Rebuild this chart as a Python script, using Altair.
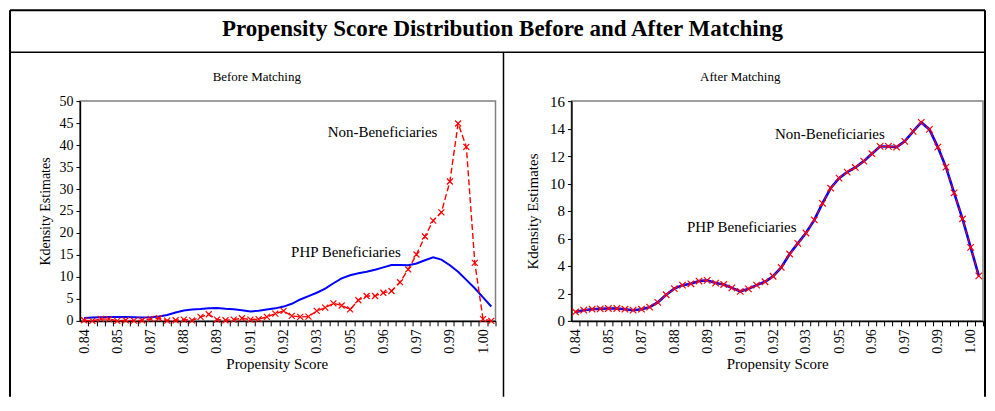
import altair as alt
import pandas as pd

# ---------------- data ----------------
scores = [0.8400, 0.8433, 0.8467, 0.8500, 0.8533, 0.8567, 0.8600, 0.8633, 0.8667, 0.8700,
          0.8733, 0.8767, 0.8800, 0.8833, 0.8867, 0.8900, 0.8933, 0.8967, 0.9000, 0.9033,
          0.9067, 0.9100, 0.9133, 0.9167, 0.9200, 0.9233, 0.9267, 0.9300, 0.9333, 0.9367,
          0.9400, 0.9433, 0.9467, 0.9500, 0.9533, 0.9567, 0.9600, 0.9633, 0.9667, 0.9700,
          0.9733, 0.9767, 0.9800, 0.9833, 0.9867, 0.9900, 0.9933, 0.9967, 1.0000, 1.0033]

php_before = [0.65, 0.78, 0.85, 0.88, 0.90, 0.90, 0.85, 0.78, 0.85, 1.00,
              1.35, 1.90, 2.35, 2.60, 2.70, 2.90, 2.95, 2.75, 2.65, 2.40,
              2.15, 2.33, 2.60, 2.85, 3.25, 3.89, 4.87, 5.64, 6.40, 7.35,
              8.56, 9.66, 10.39, 10.83, 11.17, 11.63, 12.17, 12.70, 12.70, 12.65,
              13.07, 13.80, 14.45, 13.94, 12.65, 11.19, 9.32, 7.42, 5.35, 3.28]

non_before = [0.15, 0.00, 0.45, 0.40, 0.00, 0.15, 0.05, 0.15, 0.45, 0.60,
              0.05, 0.15, 0.30, 0.10, 0.90, 1.50, 0.30, 0.15, 0.30, 0.60,
              0.30, 0.40, 0.90, 1.66, 2.26, 1.13, 0.90, 0.98, 2.26, 3.00,
              4.00, 3.50, 2.60, 4.70, 5.66, 5.66, 6.40, 6.80, 8.80, 11.70,
              15.10, 19.20, 22.80, 24.70, 31.70, 44.90, 39.60, 13.20, 0.40, 0.00]

php_after = [0.65, 0.78, 0.85, 0.88, 0.90, 0.90, 0.85, 0.78, 0.85, 1.00,
             1.35, 1.90, 2.35, 2.60, 2.70, 2.90, 2.95, 2.75, 2.65, 2.40,
             2.15, 2.33, 2.60, 2.85, 3.25, 3.89, 4.87, 5.64, 6.40, 7.35,
             8.56, 9.66, 10.39, 10.83, 11.17, 11.63, 12.17, 12.70, 12.70, 12.65,
             13.07, 13.80, 14.45, 13.94, 12.65, 11.19, 9.32, 7.42, 5.35, 3.28]

non_after = [0.65, 0.78, 0.85, 0.88, 0.90, 0.90, 0.85, 0.78, 0.85, 1.00,
             1.35, 1.90, 2.35, 2.60, 2.70, 2.90, 2.95, 2.75, 2.65, 2.40,
             2.15, 2.33, 2.60, 2.85, 3.25, 3.89, 4.87, 5.64, 6.40, 7.35,
             8.56, 9.66, 10.39, 10.83, 11.17, 11.63, 12.17, 12.70, 12.70, 12.65,
             13.07, 13.80, 14.45, 13.94, 12.65, 11.19, 9.32, 7.42, 5.35, 3.28]

tick_positions = ["0.8400", "0.8533", "0.8667", "0.8800", "0.8933", "0.9067", "0.9200",
                  "0.9333", "0.9467", "0.9600", "0.9733", "0.9867", "1.0000"]
tick_labels = ["0.84", "0.85", "0.87", "0.88", "0.89", "0.91", "0.92",
               "0.93", "0.95", "0.96", "0.97", "0.99", "1.00"]

main_title = "Propensity Score Distribution Before and After Matching"
panel_titles = ["Before Matching", "After Matching"]
x_title = "Propensity Score"
y_title = "Kdensity Estimates"

# annotation anchors (score, density) per panel
ann_before = pd.DataFrame({"label": ["Non-Beneficiaries", "PHP Beneficiaries"],
                           "score": [0.9597, 0.9450], "value": [43.0, 15.6]})
ann_after = pd.DataFrame({"label": ["Non-Beneficiaries", "PHP Beneficiaries"],
                          "score": [0.9430, 0.9073], "value": [13.6, 6.87]})

FONT = "Liberation Serif"
H = 220
W1 = 416
W2 = 412
X_DOMAIN = [0.83833, 1.00500]
XMARK = "M-1,-1L1,1M-1,1L1,-1"

pos_list = "[" + ",".join("'%s'" % p for p in tick_positions) + "]"
lab_list = "[" + ",".join("'%s'" % l for l in tick_labels) + "]"
label_expr = ("indexof(%s, format(datum.value, '.4f')) >= 0 ? %s[indexof(%s, format(datum.value, '.4f'))] : ''"
              % (pos_list, lab_list, pos_list))


def x_enc(width, title_x):
    half = width / 50 / 2
    return alt.X("score:Q",
                 scale=alt.Scale(domain=X_DOMAIN, nice=False, zero=False),
                 axis=alt.Axis(values=scores, tickOffset=half, labelOffset=-half,
                               labelExpr=label_expr, labelAngle=-90, labelOverlap=False,
                               labelFlush=False, labelFontSize=14, labelPadding=3,
                               tickSize=5, grid=False, title=x_title, titleFontSize=15,
                               titlePadding=3, titleX=title_x, titleAnchor="middle"))


def y_enc(field, ymax, step, label_size, title_size, title_pad):
    return alt.Y(field + ":Q",
                 scale=alt.Scale(domain=[0, ymax], nice=False, zero=True),
                 axis=alt.Axis(values=list(range(0, ymax + 1, step)), grid=False,
                               labelFontSize=label_size, tickSize=4, labelPadding=3,
                               title=y_title, titleFontSize=title_size, titlePadding=title_pad))


def text_at(txt, x, y, size, weight="normal"):
    return alt.Chart(pd.DataFrame({"t": [txt]})).mark_text(
        font=FONT, fontSize=size, fontWeight=weight, color="black",
        align="center", baseline="middle"
    ).encode(x=alt.value(x), y=alt.value(y), text="t:N")


def vrule(x, y1, y2, w):
    return alt.Chart(pd.DataFrame({"a": [0]})).mark_rule(color="black", strokeWidth=w).encode(
        x=alt.value(x), y=alt.value(y1), y2=alt.value(y2))


def hrule(x1, x2, y, w):
    return alt.Chart(pd.DataFrame({"a": [0]})).mark_rule(color="black", strokeWidth=w).encode(
        x=alt.value(x1), x2=alt.value(x2), y=alt.value(y))


def panel(php, non, ann, ymax, step, width, label_size, title_size, title_pad, title_x, after):
    df = pd.DataFrame({"score": scores, "php": php, "non": non})
    base = alt.Chart(df)
    xe = x_enc(width, title_x)

    def ye(field):
        return y_enc(field, ymax, step, label_size, title_size, title_pad)

    if after:
        blue = base.mark_line(color="#0000FF", strokeWidth=2.6).encode(x=xe, y=ye("php"))
        red = base.mark_line(color="#FF0000", strokeWidth=1, strokeDash=[5, 3]).encode(
            x=xe, y=ye("non"))
        msize = 42
    else:
        blue = base.mark_line(color="#0000FF", strokeWidth=2).encode(x=xe, y=ye("php"))
        red = base.mark_line(color="#FF0000", strokeWidth=1.4, strokeDash=[6, 3]).encode(
            x=xe, y=ye("non"))
        msize = 36
    pts = base.mark_point(shape=XMARK, color="#FF0000", size=msize, strokeWidth=1.2,
                          filled=False, opacity=1).encode(x=xe, y=ye("non"))
    ann_layer = alt.Chart(ann).mark_text(font=FONT, fontSize=15, color="black",
                                         align="center", baseline="middle").encode(
        x=xe, y=ye("value"), text="label:N")
    return [blue, red, pts, ann_layer]


left_layers = panel(php_before, non_before, ann_before, 50, 5, W1, 14, 14, 6, 197, False)
right_layers = panel(php_after, non_after, ann_after, 16, 2, W2, 15, 15, 9, W2 / 2, True)

left_frame = [
    vrule(-70, -91, 296, 2),
    hrule(-70, 906, -91, 2),
    hrule(-70, 906, -49, 1.5),
    vrule(424, -49, 296, 1.5),
    text_at(main_title, 423, -72, 23, "bold"),
    text_at(panel_titles[0], 177, -24, 13),
]
right_frame = [
    vrule(414, -91, 296, 2),
    text_at(panel_titles[1], 169, -24, 13),
]

left = alt.layer(*(left_frame + left_layers)).properties(width=W1, height=H)
right = alt.layer(*(right_frame + right_layers)).properties(width=W2, height=H)

chart = alt.hconcat(left, right, spacing=76, bounds="flush").properties(
    padding=0, background="white"
).configure_view(
    stroke="#808080", strokeWidth=1.5
).configure_axis(
    domainColor="black", domainWidth=1.5, tickColor="black", tickWidth=1,
    labelColor="black", titleColor="black", labelFont=FONT, titleFont=FONT,
    titleFontWeight="normal"
)

chart.save("out.html", embed_options={"renderer": "svg", "actions": False})
